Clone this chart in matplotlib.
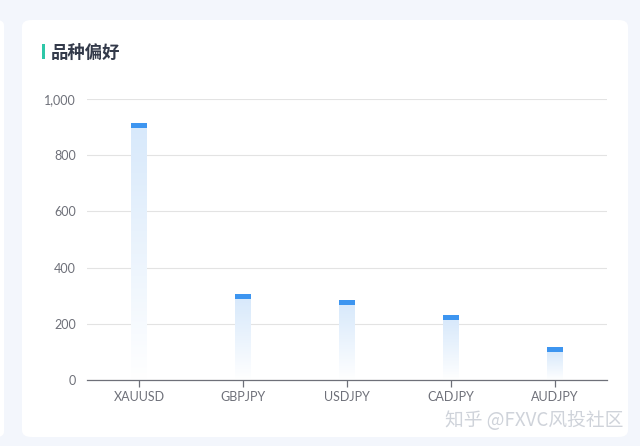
import matplotlib
matplotlib.use("Agg")
import matplotlib.pyplot as plt
import numpy as np
from matplotlib.patches import FancyBboxPatch, Rectangle
from matplotlib.colors import LinearSegmentedColormap

categories = ["XAUUSD", "GBPJPY", "USDJPY", "CADJPY", "AUDJPY"]
values = [915, 306, 286, 231, 116]
yticks = [0, 200, 400, 600, 800, 1000]
ytick_labels = ["0", "200", "400", "600", "800", "1,000"]
title = "品种偏好"
watermark = "知乎 @FXVC风投社区"

plt.rcParams['font.family'] = ['Lato', 'Noto Sans CJK SC', 'DejaVu Sans']

fig = plt.figure(figsize=(6.4, 4.46), dpi=100)
fig.patch.set_facecolor("#f3f6fc")

W, H = 640, 446
def fx(x): return x / W
def fy(y): return 1 - y / H

# left card edge
fig.patches.append(FancyBboxPatch((fx(-20), fy(437)), fx(24), fy(20) - fy(437),
                                  boxstyle="round,pad=0,rounding_size=0.012",
                                  transform=fig.transFigure, facecolor="white",
                                  edgecolor="none", zorder=-2))
# main card
fig.patches.append(FancyBboxPatch((fx(22), fy(437)), fx(628) - fx(22), fy(20) - fy(437),
                                  boxstyle="round,pad=0,rounding_size=0.015",
                                  transform=fig.transFigure, facecolor="white",
                                  edgecolor="none", zorder=-2))
# title marker
fig.patches.append(Rectangle((fx(42), fy(59)), fx(3), fy(44) - fy(59),
                             transform=fig.transFigure, facecolor="#2ec7a8",
                             edgecolor="none", zorder=-1))
fig.text(fx(51), fy(53), title, fontsize=12.5, fontweight="bold", color="#333a4a",
         va="center", ha="left", family=['Noto Sans CJK SC', 'DejaVu Sans'])

ax = fig.add_axes([fx(87), fy(380), fx(607) - fx(87), fy(99) - fy(380)])
ax.set_zorder(2)
ax.set_facecolor("none")

cmap = LinearSegmentedColormap.from_list("g", ["#ffffff", "#d8e9fb"])
grad = np.linspace(0, 1, 256).reshape(-1, 1)
bw = 0.15
cap = 18
for i, v in enumerate(values):
    ax.imshow(grad, cmap=cmap, origin="lower", aspect="auto",
              extent=(i - bw / 2, i + bw / 2, 0, v - cap), zorder=2, interpolation="bilinear")
    ax.bar(i, cap, bottom=v - cap, width=bw, color="#3d95f0", zorder=3)
ax.set_xlim(-0.5, len(categories) - 0.5)
ax.set_ylim(0, 1000)

ax.set_yticks(yticks)
ax.set_yticklabels(ytick_labels)
ax.set_xticks(range(len(categories)))
ax.set_xticklabels(categories)
ax.grid(axis="y", color="#e3e3e3", linewidth=0.8, zorder=0)
ax.set_axisbelow(True)
for s in ["top", "right", "left"]:
    ax.spines[s].set_visible(False)
ax.spines["bottom"].set_color("#6e7079")
ax.spines["bottom"].set_linewidth(0.9)
ax.tick_params(axis="y", length=0, pad=8, labelsize=9, labelcolor="#6e7079")
ax.tick_params(axis="x", length=5, width=0.9, color="#6e7079", pad=3,
               labelsize=9, labelcolor="#6e7079")

fig.text(fx(623), fy(421), watermark, fontsize=13.5, color="#cfd3da", ha="right",
         va="center", family=['Noto Sans CJK SC', 'DejaVu Sans'])

fig.savefig("out.png", dpi=100, facecolor=fig.get_facecolor())
